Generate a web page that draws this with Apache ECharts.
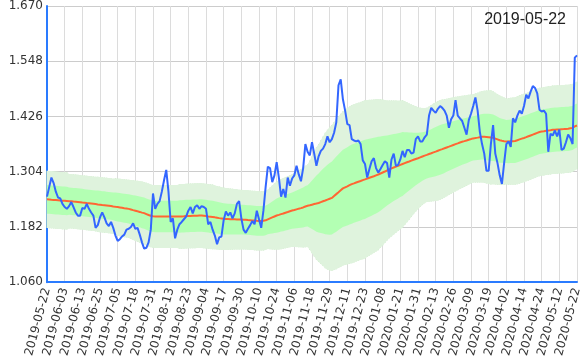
<!DOCTYPE html>
<html><head><meta charset="utf-8">
<script src="https://cdn.jsdelivr.net/npm/echarts@6/dist/echarts.min.js"></script>
<style>html,body{margin:0;padding:0;background:#fff}#c{width:585px;height:360px}</style>
</head><body><div id="c"></div>
<script>
// x-axis tick labels (every 8th category)
const tickDates = ['2019-05-22','2019-06-03','2019-06-13','2019-06-25','2019-07-05','2019-07-18','2019-07-31','2019-08-13','2019-08-23','2019-09-04','2019-09-17','2019-09-30','2019-10-10','2019-10-24','2019-11-06','2019-11-18','2019-11-29','2019-12-11','2019-12-23','2020-01-08','2020-01-21','2020-01-31','2020-02-13','2020-02-26','2020-03-09','2020-03-19','2020-04-02','2020-04-14','2020-04-24','2020-05-12','2020-05-22'];
const yTicks = [1.060,1.182,1.304,1.426,1.548,1.670];
const titleText = '2019-05-22';

// price (blue)
const price = [
1.249,1.270,1.291,1.279,1.260,1.247,1.245,1.233,1.226,1.222,
1.228,1.237,1.226,1.214,1.207,1.207,1.224,1.222,1.233,1.222,
1.214,1.207,1.180,1.186,1.203,1.214,1.203,1.190,1.184,1.193,
1.180,1.163,1.151,1.155,1.161,1.165,1.176,1.178,1.182,1.190,
1.178,1.180,1.165,1.148,1.134,1.136,1.148,1.176,1.256,1.222,
1.233,1.239,1.260,1.285,1.308,1.260,1.193,1.201,1.157,1.176,
1.188,1.193,1.199,1.205,1.218,1.226,1.212,1.226,1.230,1.222,
1.228,1.226,1.222,1.188,1.193,1.176,1.163,1.144,1.159,1.161,
1.197,1.216,1.207,1.214,1.201,1.212,1.233,1.239,1.201,1.176,
1.169,1.178,1.186,1.195,1.188,1.218,1.199,1.180,1.218,1.270,
1.315,1.312,1.281,1.296,1.325,1.291,1.249,1.266,1.247,1.291,
1.273,1.289,1.296,1.317,1.298,1.283,1.312,1.365,1.348,1.340,
1.369,1.344,1.317,1.338,1.350,1.355,1.365,1.382,1.369,1.376,
1.390,1.413,1.495,1.508,1.464,1.439,1.409,1.407,1.376,1.373,
1.371,1.373,1.365,1.329,1.321,1.291,1.310,1.327,1.334,1.312,
1.302,1.310,1.319,1.327,1.323,1.291,1.331,1.344,1.317,1.319,
1.331,1.350,1.336,1.352,1.352,1.344,1.346,1.376,1.382,1.371,
1.371,1.380,1.386,1.428,1.445,1.439,1.434,1.443,1.449,1.445,
1.439,1.428,1.401,1.420,1.428,1.462,1.428,1.422,1.416,1.401,
1.386,1.418,1.432,1.449,1.468,1.439,1.392,1.365,1.344,1.306,
1.306,1.365,1.407,1.344,1.323,1.296,1.277,1.323,1.365,1.371,
1.359,1.422,1.413,1.428,1.439,1.432,1.449,1.474,1.466,1.481,
1.493,1.489,1.477,1.441,1.437,1.439,1.432,1.348,1.388,1.384,
1.395,1.382,1.397,1.352,1.355,1.369,1.386,1.378,1.365,1.556,
1.561];

// moving average (red)
const ma = [
1.2430,1.2426,1.2421,1.2417,1.2413,1.2409,1.2404,1.2400,1.2398,1.2394,
1.2390,1.2386,1.2381,1.2377,1.2373,1.2367,1.2360,1.2354,1.2348,1.2343,
1.2337,1.2331,1.2325,1.2318,1.2312,1.2306,1.2301,1.2295,1.2289,1.2283,
1.2274,1.2266,1.2259,1.2251,1.2243,1.2234,1.2228,1.2219,1.2207,1.2192,
1.2179,1.2165,1.2152,1.2137,1.2125,1.2104,1.2083,1.2066,1.2055,1.2051,
1.2051,1.2051,1.2051,1.2051,1.2051,1.2051,1.2051,1.2051,1.2051,1.2051,
1.2051,1.2053,1.2055,1.2060,1.2062,1.2064,1.2066,1.2068,1.2070,1.2072,
1.2072,1.2066,1.2060,1.2053,1.2047,1.2041,1.2032,1.2024,1.2015,1.2007,
1.1999,1.1996,1.1994,1.1992,1.1990,1.1988,1.1986,1.1984,1.1982,1.1980,
1.1978,1.1973,1.1969,1.1965,1.1961,1.1956,1.1954,1.1954,1.1956,1.1967,
1.1988,1.2009,1.2030,1.2051,1.2072,1.2087,1.2104,1.2118,1.2135,1.2150,
1.2167,1.2182,1.2194,1.2209,1.2224,1.2236,1.2251,1.2272,1.2287,1.2299,
1.2312,1.2325,1.2337,1.2350,1.2369,1.2388,1.2404,1.2423,1.2442,1.2461,
1.2503,1.2545,1.2587,1.2630,1.2672,1.2695,1.2718,1.2743,1.2766,1.2783,
1.2802,1.2819,1.2836,1.2855,1.2871,1.2888,1.2907,1.2924,1.2941,1.2960,
1.2977,1.3000,1.3023,1.3044,1.3067,1.3090,1.3113,1.3132,1.3151,1.3170,
1.3191,1.3210,1.3229,1.3248,1.3265,1.3284,1.3303,1.3322,1.3338,1.3357,
1.3376,1.3395,1.3412,1.3431,1.3448,1.3467,1.3484,1.3503,1.3522,1.3539,
1.3557,1.3576,1.3593,1.3612,1.3631,1.3650,1.3667,1.3686,1.3701,1.3715,
1.3730,1.3747,1.3761,1.3776,1.3784,1.3793,1.3803,1.3812,1.3812,1.3808,
1.3803,1.3797,1.3791,1.3772,1.3753,1.3734,1.3724,1.3715,1.3707,1.3707,
1.3711,1.3715,1.3719,1.3736,1.3753,1.3770,1.3786,1.3803,1.3822,1.3841,
1.3860,1.3879,1.3898,1.3917,1.3926,1.3934,1.3943,1.3949,1.3957,1.3966,
1.3968,1.3972,1.3974,1.3979,1.3981,1.3985,1.3987,1.3998,1.4008,1.4040,
1.4061];

// band standard deviation (inner band = ma +/- sd, outer band = ma +/- 2sd)
const sd = [
0.0316,0.0316,0.0316,0.0316,0.0316,0.0316,0.0316,0.0316,0.0316,0.0316,
0.0301,0.0301,0.0301,0.0301,0.0301,0.0301,0.0301,0.0301,0.0301,0.0301,
0.0301,0.0301,0.0301,0.0305,0.0305,0.0305,0.0305,0.0305,0.0305,0.0305,
0.0305,0.0316,0.0316,0.0318,0.0318,0.0320,0.0320,0.0322,0.0326,0.0330,
0.0334,0.0337,0.0341,0.0343,0.0345,0.0347,0.0347,0.0347,0.0347,0.0347,
0.0347,0.0347,0.0347,0.0347,0.0347,0.0347,0.0347,0.0347,0.0347,0.0347,
0.0358,0.0358,0.0358,0.0358,0.0358,0.0358,0.0358,0.0358,0.0358,0.0358,
0.0358,0.0358,0.0358,0.0358,0.0358,0.0358,0.0353,0.0351,0.0349,0.0347,
0.0345,0.0343,0.0341,0.0339,0.0337,0.0334,0.0332,0.0330,0.0330,0.0328,
0.0328,0.0328,0.0328,0.0328,0.0328,0.0328,0.0328,0.0328,0.0328,0.0328,
0.0328,0.0341,0.0353,0.0366,0.0379,0.0383,0.0387,0.0391,0.0393,0.0395,
0.0398,0.0400,0.0408,0.0417,0.0425,0.0433,0.0442,0.0450,0.0456,0.0494,
0.0536,0.0578,0.0621,0.0652,0.0684,0.0715,0.0747,0.0772,0.0793,0.0806,
0.0818,0.0829,0.0837,0.0846,0.0852,0.0858,0.0865,0.0869,0.0873,0.0873,
0.0873,0.0873,0.0873,0.0873,0.0873,0.0867,0.0860,0.0854,0.0848,0.0841,
0.0835,0.0820,0.0806,0.0789,0.0774,0.0761,0.0751,0.0740,0.0730,0.0719,
0.0711,0.0705,0.0684,0.0663,0.0642,0.0621,0.0600,0.0581,0.0564,0.0549,
0.0536,0.0526,0.0520,0.0526,0.0532,0.0539,0.0545,0.0549,0.0551,0.0547,
0.0543,0.0538,0.0534,0.0530,0.0526,0.0522,0.0517,0.0513,0.0509,0.0505,
0.0501,0.0496,0.0492,0.0488,0.0492,0.0496,0.0501,0.0505,0.0509,0.0513,
0.0517,0.0520,0.0513,0.0507,0.0501,0.0494,0.0488,0.0482,0.0475,0.0478,
0.0480,0.0482,0.0484,0.0486,0.0488,0.0488,0.0488,0.0488,0.0488,0.0488,
0.0488,0.0488,0.0488,0.0488,0.0488,0.0488,0.0488,0.0488,0.0488,0.0488,
0.0488,0.0488,0.0488,0.0488,0.0488,0.0488,0.0488,0.0487,0.0486,0.0485,
0.0484];

// category dates: tick dates every 8th slot, weekdays in between
function fmt(d){return d.toISOString().slice(0,10);}
const dates = [];
for (let k = 0; k < tickDates.length - 1; k++) {
  const a = new Date(tickDates[k] + 'T00:00:00Z'), b = new Date(tickDates[k+1] + 'T00:00:00Z');
  dates.push(tickDates[k]);
  const wd = [];
  for (let d = new Date(a.getTime() + 86400000); d < b; d = new Date(d.getTime() + 86400000)) {
    const w = d.getUTCDay(); if (w !== 0 && w !== 6) wd.push(fmt(d));
  }
  for (let j = 0; j < 7; j++) dates.push(wd[Math.floor(j * wd.length / 7)]);
}
dates.push(tickDates[tickDates.length - 1]);

const outerLow = ma.map((m,i)=>+(m - 2*sd[i]).toFixed(5));
const outerSpan = sd.map(s=>+(4*s).toFixed(5));
const innerLow = ma.map((m,i)=>+(m - sd[i]).toFixed(5));
const innerSpan = sd.map(s=>+(2*s).toFixed(5));

const chart = echarts.init(document.getElementById('c'), null, {renderer:'canvas'});
const FONT = 'DejaVu Sans';
const hidden = {width:0, opacity:0};
chart.setOption({
  animation: false,
  title: {text: titleText, right: 14, top: 7, textStyle: {fontFamily:'Liberation Sans', fontSize: 16, fontWeight:'normal', color:'#222'}},
  grid: {left: 47, right: 8, top: 5, bottom: 65, containLabel: false},
  xAxis: {
    type: 'category', data: dates, boundaryGap: false,
    axisLine: {lineStyle: {color: '#2a7bff', width: 2}},
    axisTick: {show: false},
    axisLabel: {interval: 7, rotate: 75, fontFamily: FONT, fontSize: 12, color: '#333', margin: 6},
    splitLine: {show: true, interval: 7, lineStyle: {color: '#dcdcdc', width: 1}}
  },
  yAxis: {
    type: 'value', min: yTicks[0], max: yTicks[yTicks.length-1], interval: +(yTicks[1]-yTicks[0]).toFixed(3),
    axisLine: {show: true, lineStyle: {color: '#2a7bff', width: 2}},
    axisTick: {show: false},
    axisLabel: {fontFamily: FONT, fontSize: 12, color: '#333', margin: 4, formatter: v => v.toFixed(3)},
    splitLine: {lineStyle: {color: '#cccccc'}}
  },
  series: [
    // pale underlay of the outer band
    {type:'line', stack:'outerA', data: outerLow, symbol:'none', lineStyle:hidden, silent:true},
    {type:'line', stack:'outerA', data: outerSpan, symbol:'none', lineStyle:hidden, areaStyle:{color:'#dff3dd', opacity:1}, silent:true},
    // striped outer band
    {type:'bar', stack:'outer', data: outerLow, barWidth: 1.2, itemStyle:{color:'rgba(0,0,0,0)'}, silent:true, z:2},
    {type:'bar', stack:'outer', data: outerSpan, barWidth: 1.2, itemStyle:{color:'#c3e6bf'}, silent:true, z:2},
    // inner band
    {type:'line', stack:'inner', data: innerLow, symbol:'none', lineStyle:hidden, silent:true, z:3},
    {type:'line', stack:'inner', data: innerSpan, symbol:'none', lineStyle:hidden, areaStyle:{color:'#b3ffb3', opacity:1}, silent:true, z:3},
    {type:'line', data: ma, symbol:'none', lineStyle:{color:'#ff6633', width:2}, z:4},
    {type:'line', data: price, symbol:'none', lineStyle:{color:'#3366ff', width:2}, z:5}
  ]
});
</script></body></html>
